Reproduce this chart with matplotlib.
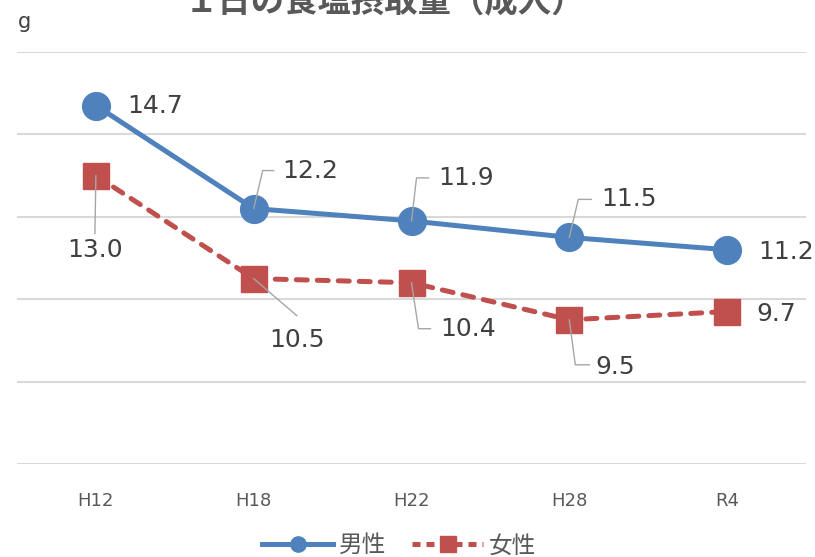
import matplotlib
matplotlib.use('Agg')
import matplotlib.pyplot as plt
from matplotlib.lines import Line2D
from matplotlib.transforms import IdentityTransform

plt.rcParams['font.family'] = ['DejaVu Sans', 'Noto Sans CJK JP']

years = ['H12', 'H18', 'H22', 'H28', 'R4']
male = [14.7, 12.2, 11.9, 11.5, 11.2]
female = [13.0, 10.5, 10.4, 9.5, 9.7]

# label placement per point: (text dx, text dy, ha, leader path) in pixels from the marker
male_lbl = [(31, 0, 'left', None),
            (29, 38, 'left', [(9, 38), (20, 38)]),
            (27, 43, 'left', [(5, 43), (17, 43)]),
            (32, 38, 'left', [(9, 38), (22, 38)]),
            (31, -2, 'left', None)]
female_lbl = [(-1, -74, 'center', [(-1, -58)]),
              (43, -61, 'center', [(43, -37)]),
              (29, -46, 'left', [(7, -46), (19, -46)]),
              (26, -47, 'left', [(6, -45), (20, -45)]),
              (29, -2, 'left', None)]

blue = '#4f81bd'
red = '#c0504d'

fig = plt.figure(figsize=(8.15, 5.57), dpi=100)
ax = fig.add_axes([17 / 815, 93 / 557, 789 / 815, 412 / 557])
x = range(len(years))

ax.plot(x, male, color=blue, lw=3.6, marker='o', ms=20, zorder=3)
ax.plot(x, female, color=red, lw=3.6, ls=(0, (2.2, 2.0)), dash_capstyle='round',
        marker='s', ms=19, zorder=3)

ax.set_xlim(-0.5, len(years) - 0.5)
ax.set_ylim(6, 16)
ax.set_yticks([6, 8, 10, 12, 14, 16])
ax.yaxis.grid(True, color='#d9d9d9', lw=1.5)
ax.set_axisbelow(True)
ax.tick_params(axis='y', left=False, labelleft=False)
ax.tick_params(axis='x', length=0, pad=20, labelsize=13, labelcolor='#595959')
ax.set_xticks(list(x))
ax.set_xticklabels(years)
for s in ax.spines.values():
    s.set_visible(False)

fig.canvas.draw()
for vals, lbls in ((male, male_lbl), (female, female_lbl)):
    for i, (v, (dx, dy, ha, path)) in enumerate(zip(vals, lbls)):
        px, py = ax.transData.transform((i, v))
        if path:
            xs = [px] + [px + p[0] for p in path]
            ys = [py] + [py + p[1] for p in path]
            fig.add_artist(Line2D(xs, ys, transform=IdentityTransform(),
                                  color='#a6a6a6', lw=1.0, zorder=4))
        ax.annotate(f'{v:.1f}', (i, v), xytext=(dx * 0.72, dy * 0.72),
                    textcoords='offset points', ha=ha, va='center',
                    fontsize=18, color='#404040', zorder=5)

fig.text(0.472, 0.995, '１日の食塩摂取量（成人）', ha='center', va='center',
         fontsize=24, fontweight='bold', color='#595959',
         family=['Noto Sans CJK JP', 'DejaVu Sans'])
fig.text(18 / 815, 1 - 22 / 557, 'g', ha='left', va='center', fontsize=15, color='#404040')

handles = [Line2D([], [], color=blue, lw=3.6, marker='o', ms=11),
           Line2D([], [], color=red, lw=3.6, ls=(0, (1.6, 1.2)), marker='s', ms=12)]
fig.legend(handles, ['男性', '女性'], loc='center', bbox_to_anchor=(0.49, 0.02),
           ncol=2, frameon=False, handlelength=3.0, columnspacing=1.1,
           handletextpad=0.25, prop={'family': 'Noto Sans CJK JP', 'size': 17},
           labelcolor='#595959')

fig.savefig('out.png', dpi=100)
